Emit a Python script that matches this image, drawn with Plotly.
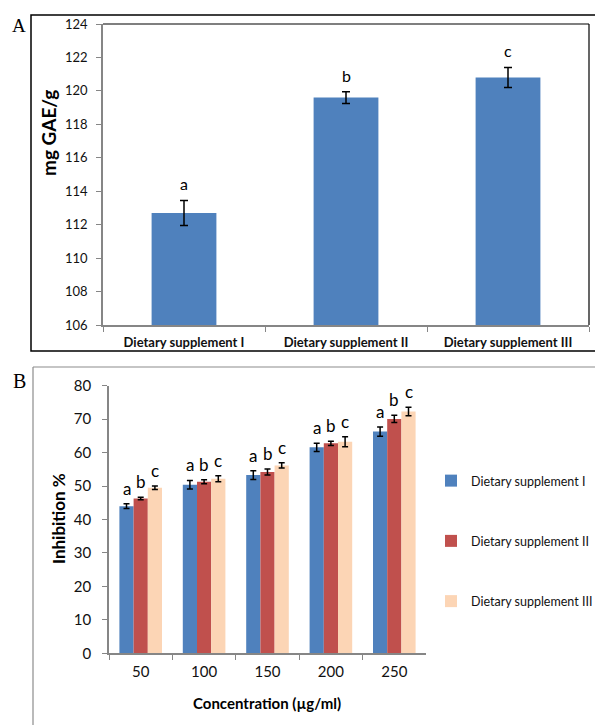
import plotly.graph_objects as go

# ---------- Data ----------
a_categories = ["Dietary supplement I", "Dietary supplement II", "Dietary supplement III"]
a_values = [112.7, 119.6, 120.8]
a_errors = [0.75, 0.35, 0.6]
a_letters = ["a", "b", "c"]

b_concentrations = ["50", "100", "150", "200", "250"]
b_series_names = ["Dietary supplement I", "Dietary supplement II", "Dietary supplement III"]
b_sup1 = [44.0, 50.4, 53.3, 61.6, 66.3]
b_sup2 = [46.3, 51.3, 54.2, 62.8, 70.1]
b_sup3 = [49.5, 52.2, 56.2, 63.3, 72.3]
b_err1 = [0.7, 1.3, 1.3, 1.25, 1.4]
b_err2 = [0.4, 0.6, 0.9, 0.65, 1.1]
b_err3 = [0.5, 0.9, 0.8, 1.5, 1.25]
b_letters = ["a", "b", "c"]

colors = ["#4F81BD", "#C0504D", "#FCD5B5"]
W, H = 603, 725
OFF = 8  # page body margin
FW, FH = W - OFF, H - OFF
FONT = "Lato, 'Open Sans', sans-serif"
TXT = "#111111"

def px_x(p):
    return (p - OFF) / FW

def px_y(p):
    return 1 - (p - OFF) / FH

fig = go.Figure()

# ---------- Panel A ----------
fig.add_trace(go.Bar(
    x=a_categories, y=a_values, width=0.4,
    marker=dict(color=colors[0], line=dict(width=0)),
    error_y=dict(type="data", array=a_errors, color="black", thickness=1.5, width=4),
    xaxis="x", yaxis="y", showlegend=False,
))

# ---------- Panel B ----------
b_values = [b_sup1, b_sup2, b_sup3]
b_errors = [b_err1, b_err2, b_err3]
bw = 0.224
offsets = [-1.5 * bw, -0.5 * bw, 0.5 * bw]
for i in range(3):
    fig.add_trace(go.Bar(
        x=b_concentrations, y=b_values[i], name=b_series_names[i],
        width=bw, offset=offsets[i],
        marker=dict(color=colors[i], line=dict(width=0)),
        error_y=dict(type="data", array=b_errors[i], color="black", thickness=1.5, width=3),
        xaxis="x2", yaxis="y2", legendgroup=f"g{i}",
    ))

axis_gray = "#868686"
tick_font_a = dict(family=FONT, size=13, color=TXT)
tick_font_b = dict(family=FONT, size=15, color=TXT)

fig.update_layout(
    width=FW, height=FH, autosize=False,
    margin=dict(l=0, r=0, t=0, b=0, pad=0, autoexpand=False),
    paper_bgcolor="white", plot_bgcolor="white",
    barmode="overlay",
    font=dict(family=FONT, color=TXT),
    xaxis=dict(
        domain=[px_x(103), px_x(589)], anchor="y", automargin=False,
        type="category", tickson="boundaries", ticks="outside", ticklen=5,
        tickcolor=axis_gray, showline=True, linecolor=axis_gray, linewidth=1.5,
        showgrid=False, tickfont=dict(family=FONT, size=13, color=TXT, weight="bold"),
        ticklabelstandoff=5,
    ),
    yaxis=dict(
        domain=[px_y(325), px_y(24)], anchor="x", automargin=False,
        range=[106, 124], dtick=2, ticks="outside", ticklen=5, tickcolor=axis_gray,
        showline=True, linecolor=axis_gray, linewidth=1.5, showgrid=False, zeroline=False,
        tickfont=tick_font_a, ticklabelstandoff=6,
    ),
    xaxis2=dict(
        domain=[px_x(109), px_x(426)], anchor="y2", automargin=False,
        type="category", tickson="boundaries", ticks="outside", ticklen=5,
        tickcolor=axis_gray, showline=True, linecolor=axis_gray, linewidth=1.5,
        showgrid=False, tickfont=tick_font_b, ticklabelstandoff=4,
        range=[-0.5, 4.5],
    ),
    yaxis2=dict(
        domain=[px_y(653.3), px_y(385.8)], anchor="x2", automargin=False,
        range=[0, 80], dtick=10, ticks="outside", ticklen=5, tickcolor=axis_gray,
        showline=True, linecolor=axis_gray, linewidth=1.5, showgrid=False, zeroline=False,
        tickfont=tick_font_b, ticklabelstandoff=8,
    ),
    legend=dict(
        x=px_x(431), y=px_y(466), xanchor="left", yanchor="top",
        traceorder="grouped", tracegroupgap=41,
        font=dict(family=FONT, size=12.5, color=TXT),
        bgcolor="rgba(0,0,0,0)", itemwidth=30,
    ),
)

shapes = []
# Panel A outer box
shapes.append(dict(type="rect", xref="paper", yref="paper",
                   x0=px_x(31), x1=px_x(604), y0=px_y(351), y1=px_y(15),
                   line=dict(color="black", width=1.5)))
# Panel A plot-area top and right border
shapes.append(dict(type="line", xref="x domain", yref="y domain", x0=0, x1=1, y0=1, y1=1,
                   line=dict(color="black", width=1.2)))
shapes.append(dict(type="line", xref="x domain", yref="y domain", x0=1, x1=1, y0=0, y1=1,
                   line=dict(color="black", width=1.2)))
# Panel B border (top and left, gray)
shapes.append(dict(type="line", xref="paper", yref="paper",
                   x0=px_x(33), x1=1, y0=px_y(367), y1=px_y(367),
                   line=dict(color="#8c8c8c", width=1.2)))
shapes.append(dict(type="line", xref="paper", yref="paper",
                   x0=px_x(33), x1=px_x(33), y0=px_y(367), y1=0,
                   line=dict(color="#8c8c8c", width=1.2)))
fig.update_layout(shapes=shapes)

def label(text, x, y, size, family=FONT, angle=0):
    return dict(text=text, x=px_x(x), y=px_y(y), xref="paper", yref="paper",
                xanchor="center", yanchor="middle", textangle=angle, showarrow=False,
                font=dict(family=family, size=size, color="black"))

ann = []
ann.append(label("A", 19, 25, 19, family="Liberation Serif, serif"))
ann.append(label("B", 19, 381, 20, family="Liberation Serif, serif"))
ann.append(label("<b>mg GAE/g</b>", 48, 133, 19, angle=-90))
ann.append(label("<b>Inhibition %</b>", 58, 519, 17, angle=-90))
ann.append(label("<b>Concentration (µg/ml)</b>", 267, 703, 15))

# Letters panel A
for c, v, e, l in zip(a_categories, a_values, a_errors, a_letters):
    ann.append(dict(text=l, x=c, y=v + e, xref="x", yref="y", xanchor="center", yanchor="bottom",
                    yshift=5, showarrow=False, font=dict(family=FONT, size=16, color="black")))
# Letters panel B (x given as category serial number)
for i in range(3):
    for j, (v, e) in enumerate(zip(b_values[i], b_errors[i])):
        ann.append(dict(text=b_letters[i], x=j + offsets[i] + bw / 2, y=v + e, xref="x2", yref="y2",
                        xanchor="center", yanchor="bottom",
                        yshift=3, showarrow=False, font=dict(family=FONT, size=17, color="black")))
fig.update_layout(annotations=ann)

fig.write_html("out.html")
